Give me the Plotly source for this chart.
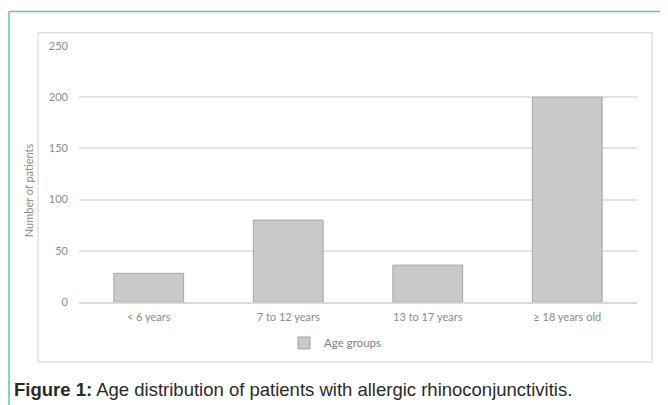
import plotly.graph_objects as go

categories = ["< 6 years", "7 to 12 years", "13 to 17 years", "≥ 18 years old"]
patients = [28, 80, 36, 200]
series_name = "Age groups"
y_title = "Number of patients"
caption_bold = "Figure 1:"
caption_rest = " Age distribution of patients with allergic rhinoconjunctivitis."

# page body has an 8px default margin; compensate so the picture lands where the reference is
OFF = 8
W, H = 668 - OFF, 405 - OFF
L, R, T, B = 79 - OFF, 31, 45.5 - OFF, 103
pw, ph = W - L - R, H - T - B

def px(x):
    return (x - OFF - L) / pw

def py(y):
    return (H - B - (y - OFF)) / ph

fig = go.Figure()
fig.add_trace(go.Bar(
    x=categories, y=patients, name=series_name, width=0.5,
    marker=dict(color="#c9c9c9", line=dict(color="#a5a5a5", width=1)),
    showlegend=True,
))

tick_font = dict(family="Lato, 'Open Sans', sans-serif", size=11, color="#8c8c8c")

fig.update_layout(
    width=W, height=H,
    margin=dict(l=L, r=R, t=T, b=B),
    paper_bgcolor="white", plot_bgcolor="white",
    xaxis=dict(showgrid=False, showline=True, linecolor="#d9d9d9", linewidth=1.5,
               tickfont=tick_font, ticks="", ticklabelstandoff=4),
    yaxis=dict(range=[0, 250], tickvals=[0, 50, 100, 150, 200, 250], showgrid=True,
               gridcolor="#e3e3e3", gridwidth=1.5, zeroline=False, showline=False,
               tickfont=tick_font, ticklabelstandoff=10),
    legend=dict(orientation="h", x=px(335), xanchor="center", y=py(343), yanchor="middle",
                font=dict(family="Lato, 'Open Sans', sans-serif", size=11.5, color="#808080"),
                itemwidth=30),
    bargap=0.5,
    shapes=[
        dict(type="rect", xref="paper", yref="paper", x0=px(38), x1=px(652), y0=py(362), y1=py(32),
             line=dict(color="#dcdcdc", width=1.2), layer="below"),
        dict(type="line", xref="paper", yref="paper", x0=px(9), x1=px(672), y0=py(11), y1=py(11),
             line=dict(color="#5cc4b4", width=1.5)),
        dict(type="line", xref="paper", yref="paper", x0=px(9), x1=px(9), y0=py(11), y1=py(410),
             line=dict(color="#5cc4b4", width=1.5)),
    ],
    annotations=[
        dict(text=y_title, xref="paper", yref="paper", x=px(28), y=py(190), textangle=-90,
             showarrow=False, xanchor="center", yanchor="middle",
             font=dict(family="Lato, 'Open Sans', sans-serif", size=11, color="#8c8c8c")),
        dict(text="<b>" + caption_bold + "</b>" + caption_rest, xref="paper", yref="paper",
             x=px(12), y=py(390), xanchor="left", yanchor="middle", showarrow=False,
             font=dict(family="Liberation Sans, Arial, sans-serif", size=18.5, color="#2a2a2a")),
    ],
)

fig.write_html("out.html")
